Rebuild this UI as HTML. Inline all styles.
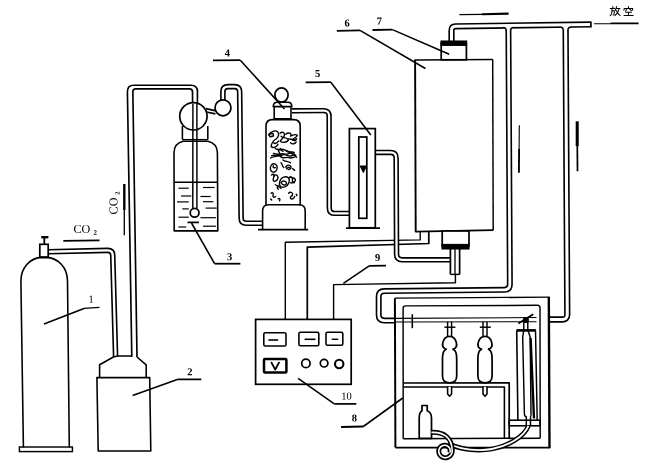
<!DOCTYPE html>
<html><head><meta charset="utf-8"><title>Diagram</title>
<style>
html,body{margin:0;padding:0;background:#fff;}
body{width:649px;height:464px;overflow:hidden;font-family:"Liberation Serif",serif;position:relative;}
svg{display:block;position:absolute;left:0;top:0;filter:grayscale(1) blur(0.3px);}
svg text{font-family:"Liberation Serif",serif;}
</style></head><body>
<svg width="649" height="464" viewBox="0 0 649 464">
<rect x="0" y="0" width="649" height="464" fill="#fff"/>
<path d="M420.20 231.60 L420.20 239.90 L285.30 242.30 L285.30 319.40" stroke="#000" stroke-width="1.39" fill="none" stroke-linejoin="round"/>
<path d="M428.80 231.40 L428.80 243.50 L307.30 247.10 L307.30 319.40" stroke="#000" stroke-width="1.72" fill="none" stroke-linejoin="round"/>
<path d="M455.40 274.40 L455.40 282.80 L333.60 284.60 L333.60 319.40" stroke="#000" stroke-width="1.45" fill="none" stroke-linejoin="round"/>
<path d="M48.20 251.80 L107.60 250.42 Q112.60 250.30 112.74 255.30 L115.60 357.00" stroke="#000" stroke-width="5.62" fill="none" stroke-linejoin="round"/>
<path d="M222.90 101.00 L222.90 91.60 Q222.90 86.60 227.90 86.60 L234.60 86.60 Q239.60 86.60 239.66 91.60 L241.14 218.30 Q241.20 223.30 246.20 223.30 L262.60 223.30" stroke="#000" stroke-width="5.62" fill="none" stroke-linejoin="round"/>
<path d="M292.00 110.80 L323.60 110.63 Q329.10 110.60 329.11 116.10 L329.29 207.90 Q329.30 213.40 334.80 213.40 L349.50 213.40" stroke="#000" stroke-width="5.42" fill="none" stroke-linejoin="round"/>
<path d="M375.00 152.40 L390.60 152.40 Q396.10 152.40 396.13 157.90 L396.57 254.30 Q396.60 259.80 402.10 259.80 L450.50 259.80" stroke="#000" stroke-width="5.52" fill="none" stroke-linejoin="round"/>
<path d="M451.50 41.50 L451.50 30.40 Q451.50 26.40 455.50 26.34 L590.70 24.40" stroke="#000" stroke-width="6.22" fill="none" stroke-linejoin="round"/>
<path d="M508.40 25.60 L509.87 284.30 Q509.90 289.80 504.40 289.85 L384.20 291.05 Q378.70 291.10 378.70 296.60 L378.70 315.10 Q378.70 320.60 384.20 320.60 L395.00 320.60" stroke="#000" stroke-width="6.02" fill="none" stroke-linejoin="round"/>
<path d="M565.60 24.60 L567.27 314.50 Q567.30 319.50 562.30 319.50 L549.50 319.50" stroke="#000" stroke-width="6.32" fill="none" stroke-linejoin="round"/>
<path d="M48.20 251.80 L107.60 250.42 Q112.60 250.30 112.74 255.30 L115.60 357.00" stroke="#fff" stroke-width="2.38" fill="none" stroke-linejoin="round"/>
<path d="M222.90 101.00 L222.90 91.60 Q222.90 86.60 227.90 86.60 L234.60 86.60 Q239.60 86.60 239.66 91.60 L241.14 218.30 Q241.20 223.30 246.20 223.30 L262.60 223.30" stroke="#fff" stroke-width="2.38" fill="none" stroke-linejoin="round"/>
<path d="M292.00 110.80 L323.60 110.63 Q329.10 110.60 329.11 116.10 L329.29 207.90 Q329.30 213.40 334.80 213.40 L349.50 213.40" stroke="#fff" stroke-width="2.18" fill="none" stroke-linejoin="round"/>
<path d="M375.00 152.40 L390.60 152.40 Q396.10 152.40 396.13 157.90 L396.57 254.30 Q396.60 259.80 402.10 259.80 L450.50 259.80" stroke="#fff" stroke-width="2.28" fill="none" stroke-linejoin="round"/>
<path d="M451.50 41.50 L451.50 30.40 Q451.50 26.40 455.50 26.34 L590.70 24.40" stroke="#fff" stroke-width="2.98" fill="none" stroke-linejoin="round"/>
<path d="M508.40 25.60 L509.87 284.30 Q509.90 289.80 504.40 289.85 L384.20 291.05 Q378.70 291.10 378.70 296.60 L378.70 315.10 Q378.70 320.60 384.20 320.60 L395.00 320.60" stroke="#fff" stroke-width="2.78" fill="none" stroke-linejoin="round"/>
<path d="M565.60 24.60 L567.27 314.50 Q567.30 319.50 562.30 319.50 L549.50 319.50" stroke="#fff" stroke-width="3.08" fill="none" stroke-linejoin="round"/>
<path d="M503.20 27.60 L506.20 27.60 L506.20 30.60" stroke="#fff" stroke-width="2.40" fill="none"/>
<path d="M502.90 27.60 Q506.20 27.60 506.20 30.90" stroke="#000" stroke-width="1.50" fill="none"/>
<path d="M513.60 27.55 L510.60 27.55 L510.60 30.55" stroke="#fff" stroke-width="2.40" fill="none"/>
<path d="M513.90 27.55 Q510.60 27.55 510.60 30.85" stroke="#000" stroke-width="1.50" fill="none"/>
<path d="M560.25 26.95 L563.25 26.95 L563.25 29.95" stroke="#fff" stroke-width="2.40" fill="none"/>
<path d="M559.95 26.95 Q563.25 26.95 563.25 30.25" stroke="#000" stroke-width="1.50" fill="none"/>
<path d="M570.95 26.90 L567.95 26.90 L567.95 29.90" stroke="#fff" stroke-width="2.40" fill="none"/>
<path d="M571.25 26.90 Q567.95 26.90 567.95 30.20" stroke="#000" stroke-width="1.50" fill="none"/>
<path d="M131.80 357.00 L127.41 91.70 Q127.30 85.20 133.80 85.20 L191.00 85.20 Q197.50 85.20 197.46 91.70 L197.40 103.20" stroke="#000" stroke-width="1.65" fill="none" stroke-linejoin="round"/>
<path d="M137.00 357.00 L132.85 91.90 Q132.80 88.90 135.80 88.90 L189.50 88.90 Q192.50 88.90 192.52 91.90 L192.60 103.20" stroke="#000" stroke-width="1.65" fill="none" stroke-linejoin="round"/>
<path d="M23.4 447 L20.9 281 C20.9 267 30.5 258.8 39.5 257.6 L48.5 257.6 C58 258.8 67.4 267 67.5 281 L69.3 447" stroke="#000" stroke-width="1.58" fill="none" stroke-linecap="round" stroke-linejoin="round" />
<rect x="19.40" y="447.00" width="53.00" height="4.60" rx="0.00" stroke="#000" stroke-width="1.45" fill="none"/>
<rect x="39.80" y="244.30" width="8.40" height="12.70" rx="0.00" stroke="#000" stroke-width="1.72" fill="#fff"/>
<line x1="44.30" y1="237.00" x2="44.30" y2="243.80" stroke="#000" stroke-width="1.85"/>
<line x1="41.20" y1="237.20" x2="48.40" y2="237.20" stroke="#000" stroke-width="2.38"/>
<path d="M96.90 377.60 L149.70 377.60 L150.80 451.00 L98.20 451.00 Z" stroke="#000" stroke-width="1.58" fill="none" stroke-linejoin="round"/>
<path d="M99.60 377.50 L99.60 364.80 L113.40 357.00 L117.60 356.00 L132.00 356.00" stroke="#000" stroke-width="1.58" fill="none" stroke-linejoin="round"/>
<path d="M137.00 357.00 L146.20 364.80 L146.20 377.50" stroke="#000" stroke-width="1.58" fill="none" stroke-linejoin="round"/>
<line x1="192.90" y1="104.00" x2="192.80" y2="208.60" stroke="#000" stroke-width="1.45"/>
<line x1="196.90" y1="104.00" x2="196.90" y2="208.60" stroke="#000" stroke-width="1.45"/>
<circle cx="194.60" cy="212.80" r="4.40" stroke="#000" stroke-width="1.72" fill="#fff"/>
<circle cx="193.40" cy="116.30" r="13.70" stroke="#000" stroke-width="1.72" fill="none"/>
<line x1="182.40" y1="126.00" x2="182.40" y2="139.60" stroke="#000" stroke-width="1.58"/>
<line x1="207.80" y1="126.00" x2="207.80" y2="139.60" stroke="#000" stroke-width="1.58"/>
<line x1="182.40" y1="139.60" x2="207.80" y2="139.60" stroke="#000" stroke-width="1.32"/>
<path d="M174.2 230.9 L174.0 153 C174.0 146 177 142.6 183 141.2 L208 141.2 C214 142.6 217.4 146 217.4 153 L217.8 230.9 Z" stroke="#000" stroke-width="1.58" fill="none" stroke-linecap="round" stroke-linejoin="round" />
<line x1="174.20" y1="182.30" x2="217.60" y2="182.30" stroke="#000" stroke-width="1.45"/>
<line x1="178.40" y1="188.20" x2="188.80" y2="188.20" stroke="#000" stroke-width="1.19"/>
<line x1="203.00" y1="187.50" x2="214.60" y2="187.50" stroke="#000" stroke-width="1.19"/>
<line x1="181.00" y1="196.00" x2="191.30" y2="196.00" stroke="#000" stroke-width="1.19"/>
<line x1="200.40" y1="196.50" x2="210.70" y2="196.50" stroke="#000" stroke-width="1.19"/>
<line x1="177.00" y1="201.90" x2="188.80" y2="201.90" stroke="#000" stroke-width="1.19"/>
<line x1="203.00" y1="201.70" x2="213.30" y2="201.70" stroke="#000" stroke-width="1.19"/>
<line x1="182.30" y1="208.90" x2="188.80" y2="208.90" stroke="#000" stroke-width="1.19"/>
<line x1="205.60" y1="208.10" x2="216.70" y2="208.10" stroke="#000" stroke-width="1.19"/>
<line x1="178.40" y1="217.20" x2="188.80" y2="217.20" stroke="#000" stroke-width="1.19"/>
<line x1="200.40" y1="217.70" x2="215.90" y2="217.70" stroke="#000" stroke-width="1.19"/>
<line x1="178.40" y1="227.00" x2="186.20" y2="227.00" stroke="#000" stroke-width="1.19"/>
<line x1="203.00" y1="226.20" x2="215.90" y2="226.20" stroke="#000" stroke-width="1.19"/>
<line x1="187.50" y1="222.40" x2="199.00" y2="222.40" stroke="#000" stroke-width="1.72"/>
<line x1="206.00" y1="108.60" x2="216.20" y2="110.90" stroke="#000" stroke-width="1.65"/>
<line x1="206.40" y1="112.00" x2="215.40" y2="113.90" stroke="#000" stroke-width="1.65"/>
<circle cx="223.00" cy="107.80" r="8.00" stroke="#000" stroke-width="1.72" fill="#fff"/>
<ellipse cx="281.5" cy="95.0" rx="6.6" ry="7.2" stroke="#000" stroke-width="1.72" fill="none"/>
<path d="M274.2 106.6 L274.2 118.8 L291.0 118.8 L291.0 106.6" stroke="#000" stroke-width="1.58" fill="#fff" stroke-linecap="round" stroke-linejoin="round" />
<path d="M273.2 106.6 Q273.3 102.3 277.4 102.2 L287.8 102.2 Q291.8 102.3 291.9 106.6 Z" stroke="#000" stroke-width="1.58" fill="#fff" stroke-linecap="round" stroke-linejoin="round" />
<path d="M266 205 L266 126 Q266 119.6 272.5 119.6 L293.7 119.6 Q300.2 119.6 300.2 126 L300.2 205" stroke="#000" stroke-width="1.58" fill="none" stroke-linecap="round" stroke-linejoin="round" />
<path d="M262.6 229.4 L262.6 211 Q262.6 204.8 268.6 204.8 L299 204.8 Q305.2 204.8 305.2 211 L305.2 229.4" stroke="#000" stroke-width="1.58" fill="none" stroke-linecap="round" stroke-linejoin="round" />
<line x1="258.00" y1="229.70" x2="308.20" y2="229.70" stroke="#000" stroke-width="1.72"/>
<g transform="translate(262,120) scale(0.1901)">
<path d="M35 78 C45 60 70 52 82 62 C92 72 88 90 74 100 C60 108 50 118 48 140 C60 150 78 142 84 128" stroke="#000" stroke-width="7.2" fill="none" stroke-linecap="round" stroke-linejoin="round"/>
<path d="M36 76 L58 70 L60 84 L42 88 Z" stroke="#000" stroke-width="7.2" fill="none" stroke-linecap="round" stroke-linejoin="round"/>
<path d="M95 70 C105 60 120 65 118 80 C116 95 100 100 96 112 C110 122 130 118 140 105" stroke="#000" stroke-width="7.2" fill="none" stroke-linecap="round" stroke-linejoin="round"/>
<path d="M125 75 C140 62 160 70 150 85 C165 78 180 70 186 82 C180 95 165 92 160 105 C170 112 178 108 182 98" stroke="#000" stroke-width="7.2" fill="none" stroke-linecap="round" stroke-linejoin="round"/>
<path d="M45 200 C60 190 80 195 95 180 C110 170 120 185 135 178 C150 170 165 175 178 185" stroke="#000" stroke-width="7.2" fill="none" stroke-linecap="round" stroke-linejoin="round"/>
<path d="M60 175 C75 185 90 170 100 195 C115 205 130 190 150 200 C160 195 170 200 175 192" stroke="#000" stroke-width="7.2" fill="none" stroke-linecap="round" stroke-linejoin="round"/>
<path d="M85 160 C95 170 90 185 105 188 M130 160 C140 172 155 165 160 180 M70 150 C80 160 100 150 110 165" stroke="#000" stroke-width="7.2" fill="none" stroke-linecap="round" stroke-linejoin="round"/>
<path d="M45 262 C40 240 55 225 70 232 C85 240 82 262 70 272 C58 278 48 272 45 262 Z" stroke="#000" stroke-width="7.2" fill="none" stroke-linecap="round" stroke-linejoin="round"/>
<path d="M125 245 C135 232 155 238 152 252 C148 265 128 262 125 245 Z M160 255 L172 265 M100 225 C110 235 105 245 115 250" stroke="#000" stroke-width="7.2" fill="none" stroke-linecap="round" stroke-linejoin="round"/>
<path d="M62 300 C60 288 75 285 82 295 C88 305 80 318 70 322 C60 325 55 315 62 300" stroke="#000" stroke-width="7.2" fill="none" stroke-linecap="round" stroke-linejoin="round"/>
<path d="M95 320 C100 300 125 292 140 305 C150 318 140 345 120 352 C100 358 85 345 95 320 Z" stroke="#000" stroke-width="7.2" fill="none" stroke-linecap="round" stroke-linejoin="round"/>
<path d="M140 305 C150 295 165 300 160 318 M85 345 C80 352 78 360 86 364 M150 330 C160 335 165 325 170 330" stroke="#000" stroke-width="7.2" fill="none" stroke-linecap="round" stroke-linejoin="round"/>
<path d="M48 385 C55 378 62 385 58 395 C55 405 65 410 72 402 M85 415 C92 410 98 418 92 425" stroke="#000" stroke-width="7.2" fill="none" stroke-linecap="round" stroke-linejoin="round"/>
<path d="M140 385 C150 375 165 382 160 395 C155 405 145 400 150 412 C158 420 170 412 172 402 M45 415 l6 6 M180 390 l4 8" stroke="#000" stroke-width="7.2" fill="none" stroke-linecap="round" stroke-linejoin="round"/>
<path d="M100 85 C110 95 125 90 135 100 C150 95 160 110 175 100 M150 120 C160 130 175 125 180 115 M60 120 C70 128 80 120 88 110" stroke="#000" stroke-width="7.2" fill="none" stroke-linecap="round" stroke-linejoin="round"/>
<path d="M50 188 C70 178 85 200 105 185 C125 172 140 200 160 186 C170 180 178 190 182 196" stroke="#000" stroke-width="7.2" fill="none" stroke-linecap="round" stroke-linejoin="round"/>
<path d="M95 150 C105 160 120 150 130 165 C140 175 160 160 170 172 M110 210 C120 220 140 215 150 225" stroke="#000" stroke-width="7.2" fill="none" stroke-linecap="round" stroke-linejoin="round"/>
<path d="M100 330 C110 315 130 320 128 335 C125 345 108 345 100 330 M70 340 C80 350 90 345 100 360" stroke="#000" stroke-width="7.2" fill="none" stroke-linecap="round" stroke-linejoin="round"/>
<path d="M150 300 C160 310 170 300 175 312 C178 322 168 330 160 324 M50 290 C58 282 66 286 64 296" stroke="#000" stroke-width="7.2" fill="none" stroke-linecap="round" stroke-linejoin="round"/>
<path d="M70 250 C60 255 55 245 60 240 M135 248 l10 4" stroke="#000" stroke-width="7.2" fill="none" stroke-linecap="round" stroke-linejoin="round"/>
</g>
<rect x="349.40" y="128.60" width="25.90" height="99.20" rx="0.00" stroke="#000" stroke-width="1.72" fill="#fff"/>
<rect x="358.80" y="137.00" width="8.00" height="81.30" rx="0.00" stroke="#000" stroke-width="1.72" fill="none"/>
<line x1="346.00" y1="228.20" x2="380.00" y2="228.20" stroke="#000" stroke-width="1.72"/>
<path d="M360.2 166 L366.4 166 L363.4 172.4 Z" stroke="#000" stroke-width="1.06" fill="#000" stroke-linecap="round" stroke-linejoin="round" />
<path d="M415.10 60.00 L492.70 59.60 L493.20 230.20 L415.70 231.60 Z" stroke="#000" stroke-width="0.01" fill="#fff" stroke-linejoin="round"/>
<line x1="415.10" y1="59.40" x2="415.70" y2="232.20" stroke="#000" stroke-width="1.91"/>
<line x1="415.10" y1="60.00" x2="492.70" y2="59.60" stroke="#000" stroke-width="1.52"/>
<line x1="492.70" y1="59.60" x2="493.20" y2="230.20" stroke="#000" stroke-width="1.45"/>
<line x1="415.70" y1="231.60" x2="493.20" y2="230.20" stroke="#000" stroke-width="1.72"/>
<rect x="441.20" y="43.20" width="25.20" height="16.60" rx="0.00" stroke="#000" stroke-width="1.72" fill="#fff"/>
<rect x="441.00" y="41.00" width="25.60" height="4.40" rx="0.00" stroke="#000" stroke-width="1.06" fill="#000"/>
<rect x="442.20" y="231.00" width="26.80" height="15.00" rx="0.00" stroke="#000" stroke-width="1.72" fill="#fff"/>
<rect x="442.00" y="244.40" width="27.00" height="4.60" rx="0.00" stroke="#000" stroke-width="1.06" fill="#000"/>
<line x1="450.40" y1="249.00" x2="450.40" y2="274.40" stroke="#000" stroke-width="1.72"/>
<line x1="459.60" y1="249.00" x2="459.60" y2="274.40" stroke="#000" stroke-width="1.72"/>
<line x1="455.00" y1="249.00" x2="455.00" y2="274.40" stroke="#000" stroke-width="1.32"/>
<line x1="450.40" y1="274.40" x2="459.60" y2="274.40" stroke="#000" stroke-width="1.45"/>
<line x1="459.40" y1="14.70" x2="483.00" y2="14.30" stroke="#000" stroke-width="1.32"/>
<line x1="482.00" y1="14.25" x2="508.60" y2="13.60" stroke="#000" stroke-width="2.11"/>
<line x1="519.30" y1="125.20" x2="519.10" y2="150.00" stroke="#000" stroke-width="1.12"/>
<line x1="519.10" y1="149.00" x2="518.90" y2="172.70" stroke="#000" stroke-width="1.85"/>
<line x1="577.20" y1="121.30" x2="577.20" y2="146.00" stroke="#000" stroke-width="3.04"/>
<line x1="577.30" y1="145.00" x2="577.50" y2="171.30" stroke="#000" stroke-width="1.72"/>
<line x1="124.30" y1="184.00" x2="124.30" y2="210.00" stroke="#000" stroke-width="2.38"/>
<line x1="124.30" y1="210.00" x2="124.30" y2="235.30" stroke="#000" stroke-width="1.32"/>
<line x1="590.90" y1="21.40" x2="590.90" y2="27.40" stroke="#000" stroke-width="1.72"/>
<line x1="594.00" y1="23.80" x2="611.00" y2="23.70" stroke="#000" stroke-width="1.06"/>
<line x1="610.60" y1="23.40" x2="638.60" y2="23.30" stroke="#000" stroke-width="1.85"/>
<rect x="255.60" y="319.40" width="95.60" height="64.90" rx="0.00" stroke="#000" stroke-width="1.72" fill="none"/>
<rect x="263.80" y="332.80" width="22.20" height="13.20" rx="1.50" stroke="#000" stroke-width="1.58" fill="none"/>
<rect x="298.90" y="332.30" width="19.90" height="13.40" rx="1.50" stroke="#000" stroke-width="1.58" fill="none"/>
<rect x="326.00" y="332.30" width="16.80" height="12.90" rx="1.50" stroke="#000" stroke-width="1.58" fill="none"/>
<line x1="268.40" y1="340.00" x2="278.20" y2="340.00" stroke="#000" stroke-width="1.58"/>
<line x1="304.60" y1="339.30" x2="315.50" y2="339.30" stroke="#000" stroke-width="1.58"/>
<line x1="331.70" y1="339.30" x2="338.20" y2="339.30" stroke="#000" stroke-width="1.45"/>
<rect x="264.00" y="359.00" width="22.40" height="13.40" rx="1.00" stroke="#000" stroke-width="2.51" fill="none"/>
<path d="M271.5 362.6 L275.2 369.6 L279 362.6" stroke="#000" stroke-width="1.85" fill="none" stroke-linecap="round" stroke-linejoin="round" />
<circle cx="305.90" cy="363.40" r="4.20" stroke="#000" stroke-width="1.72" fill="none"/>
<circle cx="324.10" cy="363.20" r="3.80" stroke="#000" stroke-width="1.72" fill="none"/>
<circle cx="339.20" cy="364.00" r="4.20" stroke="#000" stroke-width="2.11" fill="none"/>
<line x1="394.90" y1="298.20" x2="548.80" y2="297.20" stroke="#000" stroke-width="1.32"/>
<line x1="394.90" y1="298.20" x2="395.40" y2="447.60" stroke="#000" stroke-width="1.98"/>
<line x1="395.40" y1="447.60" x2="549.60" y2="447.60" stroke="#000" stroke-width="1.58"/>
<line x1="548.80" y1="296.80" x2="549.50" y2="448.20" stroke="#000" stroke-width="2.38"/>
<path d="M403.20 438.80 L403.10 308.40 Q403.10 305.90 405.60 305.89 L537.50 305.31 Q540.00 305.30 540.00 307.80 L540.20 438.20" stroke="#000" stroke-width="1.45" fill="none" stroke-linejoin="round"/>
<line x1="403.20" y1="438.80" x2="540.20" y2="438.20" stroke="#000" stroke-width="1.58"/>
<line x1="394.90" y1="318.40" x2="536.50" y2="317.50" stroke="#000" stroke-width="1.06"/>
<line x1="394.90" y1="322.00" x2="536.50" y2="321.70" stroke="#000" stroke-width="1.06"/>
<line x1="412.30" y1="314.20" x2="412.30" y2="328.20" stroke="#000" stroke-width="1.58"/>
<path d="M403.10 383.00 L509.20 382.80 L509.20 438.40" stroke="#000" stroke-width="1.72" fill="none" stroke-linejoin="round"/>
<path d="M403.10 387.00 L504.40 387.00 L504.40 438.40" stroke="#000" stroke-width="1.58" fill="none" stroke-linejoin="round"/>
<line x1="447.60" y1="321.80" x2="447.60" y2="336.80" stroke="#000" stroke-width="1.45"/>
<line x1="451.60" y1="321.80" x2="451.60" y2="336.80" stroke="#000" stroke-width="1.45"/>
<line x1="444.40" y1="327.20" x2="455.40" y2="327.20" stroke="#000" stroke-width="1.45"/>
<path d="M446.00 349.2 C439.60 347 443.20 336.3 449.60 336.3 C456.00 336.3 459.60 347 453.20 349.2" stroke="#000" stroke-width="1.72" fill="none" stroke-linecap="round" stroke-linejoin="round" />
<path d="M446.00 349.2 C443.20 351 442.50 353 442.50 360 L442.50 376 C442.50 381 445.60 382.8 449.60 382.8 C453.60 382.8 456.70 381 456.70 376 L456.70 360 C456.70 353 456.00 351 453.20 349.2" stroke="#000" stroke-width="1.72" fill="none" stroke-linecap="round" stroke-linejoin="round" />
<path d="M447.60 387 L447.60 394 L449.60 396.2 L451.60 394 L451.60 387" stroke="#000" stroke-width="1.58" fill="#fff" stroke-linecap="round" stroke-linejoin="round" />
<line x1="483.00" y1="321.80" x2="483.00" y2="336.80" stroke="#000" stroke-width="1.45"/>
<line x1="487.00" y1="321.80" x2="487.00" y2="336.80" stroke="#000" stroke-width="1.45"/>
<line x1="479.80" y1="327.20" x2="490.80" y2="327.20" stroke="#000" stroke-width="1.45"/>
<path d="M481.40 349.2 C475.00 347 478.60 336.3 485.00 336.3 C491.40 336.3 495.00 347 488.60 349.2" stroke="#000" stroke-width="1.72" fill="none" stroke-linecap="round" stroke-linejoin="round" />
<path d="M481.40 349.2 C478.60 351 477.90 353 477.90 360 L477.90 376 C477.90 381 481.00 382.8 485.00 382.8 C489.00 382.8 492.10 381 492.10 376 L492.10 360 C492.10 353 491.40 351 488.60 349.2" stroke="#000" stroke-width="1.72" fill="none" stroke-linecap="round" stroke-linejoin="round" />
<path d="M483.00 387 L483.00 394 L485.00 396.2 L487.00 394 L487.00 387" stroke="#000" stroke-width="1.58" fill="#fff" stroke-linecap="round" stroke-linejoin="round" />
<path d="M419.2 438.4 L419.2 418 Q419.2 412.4 422 410.8 L422 405.5 L427.2 405.5 L427.2 410.8 Q431.5 412.4 431.5 418 L431.5 438.4 Z" stroke="#000" stroke-width="1.72" fill="#fff" stroke-linecap="round" stroke-linejoin="round" />
<line x1="516.50" y1="330.40" x2="535.90" y2="330.40" stroke="#000" stroke-width="2.64"/>
<line x1="516.70" y1="330.40" x2="517.90" y2="420.00" stroke="#000" stroke-width="1.58"/>
<line x1="535.50" y1="330.40" x2="537.20" y2="420.00" stroke="#000" stroke-width="1.45"/>
<path d="M523.8 322 L523.8 330 L522.7 337 L524.4 414 Q524.6 416.6 526.3 416.8 L526.3 425.6 M527.8 322 L527.8 330 L530.2 337 L531.0 414 Q531.2 416.6 530.5 416.8 L530.5 425.6" stroke="#000" stroke-width="1.45" fill="none" stroke-linecap="round" stroke-linejoin="round" />
<line x1="530.60" y1="338.00" x2="534.00" y2="418.50" stroke="#000" stroke-width="2.38"/>
<rect x="509.20" y="420.20" width="30.80" height="5.60" rx="0.00" stroke="#000" stroke-width="1.58" fill="none"/>
<circle cx="525.90" cy="320.00" r="2.40" stroke="#000" stroke-width="1.32" fill="#000"/>
<line x1="518.40" y1="323.60" x2="533.20" y2="314.20" stroke="#000" stroke-width="1.72"/>
<path d="M451.6 445.0 C462 449.5 478 451.5 492 449 C508 446 524 437 528.4 425.8" stroke="#000" stroke-width="4.80" fill="none" stroke-linecap="butt"/>
<path d="M451.6 445.0 C462 449.5 478 451.5 492 449 C508 446 524 437 528.4 425.8" stroke="#fff" stroke-width="1.80" fill="none" stroke-linecap="butt"/>
<path d="M431.5 432.4 C444 431.8 451.6 438 452.19 449.73 L452.24 450.97 L452.09 452.19 L451.74 453.35 L451.19 454.43 L450.48 455.40 L449.62 456.22 L448.64 456.88 L447.57 457.36 L446.44 457.65 L445.29 457.74 L444.16 457.64 L443.06 457.35 L442.04 456.88 L441.12 456.25 L440.32 455.48 L439.68 454.59 L439.20 453.61 L438.89 452.58 L438.77 451.52 L438.82 450.46 L439.06 449.44 L439.46 448.47 L440.01 447.60 L440.70 446.85 L441.50 446.22 L442.38 445.75 L443.32 445.43 L444.30 445.28 L445.27 445.30 L446.22 445.48 L447.12 445.82 L447.94 446.30 L448.65 446.91 L449.25 447.62 L449.71 448.41 L450.03 449.27 L450.20 450.15 L450.21 451.05 L450.07 451.92 L449.79 452.74" stroke="#000" stroke-width="5.00" fill="none" stroke-linecap="butt"/>
<path d="M431.5 432.4 C444 431.8 451.6 438 452.19 449.73 L452.24 450.97 L452.09 452.19 L451.74 453.35 L451.19 454.43 L450.48 455.40 L449.62 456.22 L448.64 456.88 L447.57 457.36 L446.44 457.65 L445.29 457.74 L444.16 457.64 L443.06 457.35 L442.04 456.88 L441.12 456.25 L440.32 455.48 L439.68 454.59 L439.20 453.61 L438.89 452.58 L438.77 451.52 L438.82 450.46 L439.06 449.44 L439.46 448.47 L440.01 447.60 L440.70 446.85 L441.50 446.22 L442.38 445.75 L443.32 445.43 L444.30 445.28 L445.27 445.30 L446.22 445.48 L447.12 445.82 L447.94 446.30 L448.65 446.91 L449.25 447.62 L449.71 448.41 L450.03 449.27 L450.20 450.15 L450.21 451.05 L450.07 451.92 L449.79 452.74" stroke="#fff" stroke-width="1.60" fill="none" stroke-linecap="butt"/>
<line x1="99.50" y1="307.40" x2="84.00" y2="308.40" stroke="#000" stroke-width="1.45"/>
<line x1="84.00" y1="308.40" x2="44.00" y2="324.00" stroke="#000" stroke-width="1.58"/>
<text x="88.60" y="302.40" font-size="10.60" font-weight="normal" text-anchor="start" fill="#000" transform="rotate(-0.6 88.60 302.40)" >1</text>
<line x1="201.30" y1="379.30" x2="177.30" y2="379.40" stroke="#000" stroke-width="1.78"/>
<line x1="177.30" y1="379.40" x2="132.60" y2="395.40" stroke="#000" stroke-width="1.58"/>
<text x="187.30" y="375.20" font-size="10.60" font-weight="bold" text-anchor="start" fill="#000" transform="rotate(-0.6 187.30 375.20)" >2</text>
<line x1="240.40" y1="263.70" x2="214.60" y2="263.70" stroke="#000" stroke-width="1.78"/>
<line x1="214.60" y1="263.70" x2="191.50" y2="223.00" stroke="#000" stroke-width="1.58"/>
<text x="226.90" y="260.20" font-size="10.60" font-weight="bold" text-anchor="start" fill="#000" transform="rotate(-0.6 226.90 260.20)" >3</text>
<line x1="213.00" y1="60.40" x2="240.30" y2="60.20" stroke="#000" stroke-width="1.78"/>
<line x1="240.30" y1="60.20" x2="284.50" y2="109.00" stroke="#000" stroke-width="1.58"/>
<text x="224.80" y="56.40" font-size="10.60" font-weight="bold" text-anchor="start" fill="#000" transform="rotate(-0.6 224.80 56.40)" >4</text>
<line x1="305.70" y1="82.40" x2="330.80" y2="82.20" stroke="#000" stroke-width="1.78"/>
<line x1="330.80" y1="82.20" x2="370.80" y2="135.00" stroke="#000" stroke-width="1.58"/>
<text x="315.00" y="77.00" font-size="10.60" font-weight="bold" text-anchor="start" fill="#000" transform="rotate(-0.6 315.00 77.00)" >5</text>
<line x1="336.80" y1="30.80" x2="360.00" y2="30.40" stroke="#000" stroke-width="1.78"/>
<line x1="360.00" y1="30.40" x2="425.40" y2="68.50" stroke="#000" stroke-width="1.58"/>
<text x="344.60" y="26.50" font-size="10.60" font-weight="bold" text-anchor="start" fill="#000" transform="rotate(-0.6 344.60 26.50)" >6</text>
<line x1="372.50" y1="30.00" x2="392.40" y2="29.60" stroke="#000" stroke-width="1.78"/>
<line x1="392.40" y1="29.60" x2="449.20" y2="54.30" stroke="#000" stroke-width="1.58"/>
<text x="376.80" y="24.60" font-size="10.60" font-weight="bold" text-anchor="start" fill="#000" transform="rotate(-0.6 376.80 24.60)" >7</text>
<line x1="341.10" y1="427.00" x2="363.30" y2="426.50" stroke="#000" stroke-width="1.78"/>
<line x1="363.30" y1="426.50" x2="402.80" y2="398.00" stroke="#000" stroke-width="1.58"/>
<text x="351.80" y="421.60" font-size="10.60" font-weight="bold" text-anchor="start" fill="#000" transform="rotate(-0.6 351.80 421.60)" >8</text>
<line x1="386.00" y1="265.60" x2="369.20" y2="265.80" stroke="#000" stroke-width="1.78"/>
<line x1="369.20" y1="265.80" x2="343.40" y2="283.40" stroke="#000" stroke-width="1.58"/>
<text x="375.00" y="261.00" font-size="10.60" font-weight="bold" text-anchor="start" fill="#000" transform="rotate(-0.6 375.00 261.00)" >9</text>
<line x1="356.30" y1="403.90" x2="334.30" y2="403.90" stroke="#000" stroke-width="1.72"/>
<line x1="334.30" y1="403.90" x2="298.10" y2="378.30" stroke="#000" stroke-width="1.58"/>
<text x="341.20" y="399.60" font-size="10.60" font-weight="normal" text-anchor="start" fill="#000" transform="rotate(-0.6 341.20 399.60)" >10</text>
<text x="73.40" y="233.00" font-size="12.20" font-weight="normal" text-anchor="start" fill="#000" transform="rotate(-0.6 73.40 233.00)" >CO</text>
<text x="93.40" y="234.80" font-size="7.00" font-weight="bold" text-anchor="start" fill="#000" transform="rotate(-0.6 93.40 234.80)" >2</text>
<line x1="63.30" y1="240.80" x2="99.50" y2="240.40" stroke="#000" stroke-width="1.72"/>
<g transform="translate(117.6,214.4) rotate(-90)">
<text x="0.00" y="0.00" font-size="12.20" font-weight="normal" text-anchor="start" fill="#000" transform="rotate(-0.6 0.00 0.00)" >CO</text>
<text x="19.60" y="2.00" font-size="6.50" font-weight="bold" text-anchor="start" fill="#000" transform="rotate(-0.6 19.60 2.00)" >2</text>
</g>
<path d="M612.6 6.6 L613.2 8.0 M610.2 8.6 L614.8 8.6 M612.0 8.6 L611.8 12.5 Q611.5 14.6 610.2 15.6 M612 10.8 L614.4 10.8 L614.0 14.8 L613.0 15.0" stroke="#000" stroke-width="1.03" fill="none" stroke-linecap="round" stroke-linejoin="round" />
<path d="M616.6 6.6 L615.4 10.2 M616.0 8.6 L620.0 8.6 M619.0 8.8 Q618.2 13 615.0 15.6 M616.2 10.6 Q617.6 14 620.2 15.6" stroke="#000" stroke-width="1.03" fill="none" stroke-linecap="round" stroke-linejoin="round" />
<path d="M628.4 6.6 L628.6 7.8 M624.0 10.2 L624.2 8.4 L632.8 8.4 L632.4 10.2 M626.8 9.2 L625.6 11.0 M629.6 9.2 L631.6 10.8" stroke="#000" stroke-width="1.03" fill="none" stroke-linecap="round" stroke-linejoin="round" />
<path d="M625.6 12.2 L631.4 12.2 M628.4 12.2 L628.4 15.4 M624.0 15.6 L633.2 15.6" stroke="#000" stroke-width="1.03" fill="none" stroke-linecap="round" stroke-linejoin="round" />
</svg>
</body></html>
